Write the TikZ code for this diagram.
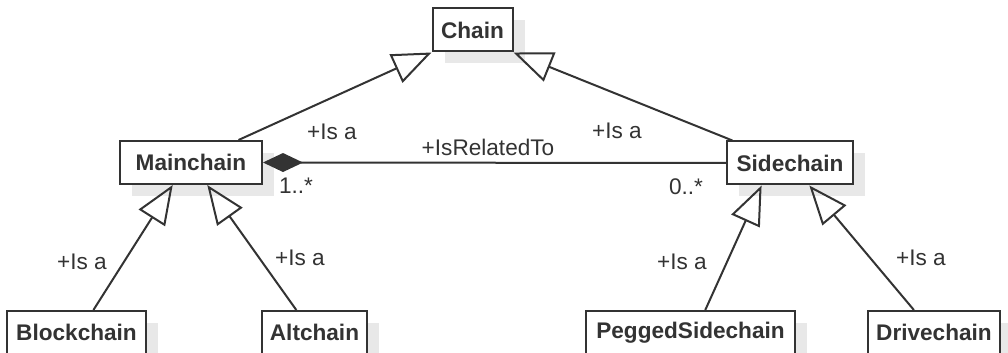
\documentclass[tikz,border=0pt]{standalone}
\usepackage{fontspec}
\setmainfont{Liberation Sans}
\usetikzlibrary{arrows.meta,shadows,calc}
\definecolor{umlgray}{HTML}{333333}
\begin{document}
\begin{tikzpicture}[x=0.5pt,y=-0.5pt,
    cls/.style={draw=umlgray, line width=1pt, fill=white, rectangle, inner sep=0pt,
      minimum height=21.5pt, text=umlgray, font=\fontsize{11.3}{13}\selectfont\bfseries,
      drop shadow={shadow xshift=6pt, shadow yshift=-6pt, fill=black!9, opacity=1}},
    isa/.style={draw=umlgray, line width=1pt, -{Triangle[open, length=19.5pt, width=15.5pt]}},
    assoc/.style={draw=umlgray, line width=1pt, {Diamond[length=20pt, width=9.5pt]}-},
    lbl/.style={text=umlgray, inner sep=0pt, font=\fontsize{11.3}{13}\selectfont}]
    \useasboundingbox (0,0) rectangle (1008,353);
    \clip (0,0) rectangle (1008,353);

    % classes
    \node [cls, minimum width=40pt] (Chain) at (472.5,30) {Chain};
    \node [cls, minimum width=71pt] (Mainchain) at (191,162.5) {Mainchain};
    \node [cls, minimum width=63pt] (Sidechain) at (790,163) {Sidechain};
    \node [cls, minimum width=69.5pt] (Blockchain) at (76.5,332.5) {Blockchain};
    \node [cls, minimum width=52.5pt] (Altchain) at (314.5,332.5) {Altchain};
    \node [cls, minimum width=104.5pt] (PeggedSidechain) at (690.5,332.5) {PeggedSidechain};
    \node [cls, minimum width=66pt] (Drivechain) at (934,332.5) {Drivechain};

    % generalisations
    \draw [isa] ($(Mainchain.north west)!0.83!(Mainchain.north east)$) -- (Chain.south west);
    \draw [isa] ($(Sidechain.north west)!0.05!(Sidechain.north east)$) -- (Chain.south east);
    \draw [isa] ($(Blockchain.north west)!0.62!(Blockchain.north east)$) -- ($(Mainchain.south west)!0.373!(Mainchain.south east)$);
    \draw [isa] ($(Altchain.north west)!0.33!(Altchain.north east)$) -- ($(Mainchain.south west)!0.613!(Mainchain.south east)$);
    \draw [isa] ($(PeggedSidechain.north west)!0.57!(PeggedSidechain.north east)$) -- ($(Sidechain.south west)!0.278!(Sidechain.south east)$);
    \draw [isa] ($(Drivechain.north west)!0.35!(Drivechain.north east)$) -- ($(Sidechain.south west)!0.651!(Sidechain.south east)$);

    % composition
    \draw [assoc] (Mainchain.east) -- (Sidechain.west);

    % labels
    \node [lbl] (isaA) at (332,132) {+Is a};
    \node [lbl] (isaB) at (617,131) {+Is a};
    \node [lbl] (isaC) at (82,262) {+Is a};
    \node [lbl] (isaD) at (300,258) {+Is a};
    \node [lbl] (isaE) at (682,262) {+Is a};
    \node [lbl] (isaF) at (921,258) {+Is a};
    \node [lbl] (rel) at (488,147) {+IsRelatedTo};
    \node [lbl] (multA) at (296,186) {1..*};
    \node [lbl] (multB) at (686,187) {0..*};
\end{tikzpicture}
\end{document}
